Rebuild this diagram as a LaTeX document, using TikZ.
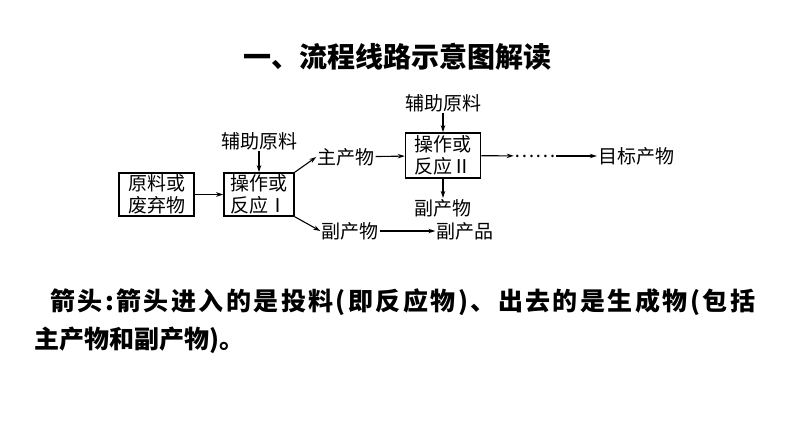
\documentclass[tikz,border=0pt]{standalone}
\usepackage{fontspec}
\newfontfamily\cjk{Noto Sans CJK SC}
\newfontfamily\cjkwide[LetterSpace=9.8]{Noto Sans CJK SC}
\usetikzlibrary{arrows.meta,positioning}
\tikzset{
  box/.style={draw,line width=1.5pt,align=center,inner sep=1pt,minimum width=75pt,minimum height=43pt,font=\cjk\fontsize{19}{22}\selectfont},
  lbl/.style={inner sep=1pt,font=\cjk\fontsize{19}{22}\selectfont},
  flow/.style={-{Stealth[length=7pt,width=4.5pt]},line width=1.1pt},
  note/.style={anchor=west,inner sep=0pt,font=\cjk\bfseries\fontsize{25}{28}\selectfont},
}

\begin{document}
\begin{tikzpicture}[x=1pt,y=-1pt]
  \useasboundingbox (0,0) rectangle (794,446);
  \node[font=\cjk\bfseries\fontsize{28}{30}\selectfont] (title) at (397,57) {一、流程线路示意图解读};
  % flow chart
  \node[box] (raw) at (156.5,194.5) {原料或\\废弃物};
  \node[box,minimum width=70pt] (op1) at (259,194.5) {操作或\\反应Ⅰ};
  \node[lbl] (aux1) at (259,141) {辅助原料};
  \node[lbl] (main) at (346,157) {主产物};
  \node[lbl] (by1) at (350,231) {副产物};
  \node[lbl] (aux2) at (443,103) {辅助原料};
  \node[box,minimum height=45pt] (op2) at (443,155.5) {操作或\\反应Ⅱ};
  \node[lbl] (by2) at (443,208) {副产物};
  \node[lbl] (byp) at (465,231) {副产品};
  \node[lbl] (dots) at (535,156) {……};
  \node[lbl] (goal) at (636,156) {目标产物};
  \draw[flow] (raw) -- (op1);
  \draw[flow] (aux1) -- (op1);
  \draw[flow] (op1.north east) -- (main.west);
  \draw[flow] (op1.south east) -- (by1.west);
  \draw[flow] (main) -- (op2);
  \draw[flow] (aux2) -- (op2);
  \draw[flow] (op2) -- (by2);
  \draw[flow] (by1) -- (byp);
  \draw[flow] (op2) -- (dots);
  \draw[flow] (dots) -- (goal);
  % explanation
  \node[note,font=\cjkwide\bfseries\fontsize{25}{28}\selectfont] (note1) at (50,302) {箭头:箭头进入的是投料(即反应物)、出去的是生成物(包括};
  \node[note] (note2) at (34,340) {主产物和副产物)。};
\end{tikzpicture}
\end{document}
